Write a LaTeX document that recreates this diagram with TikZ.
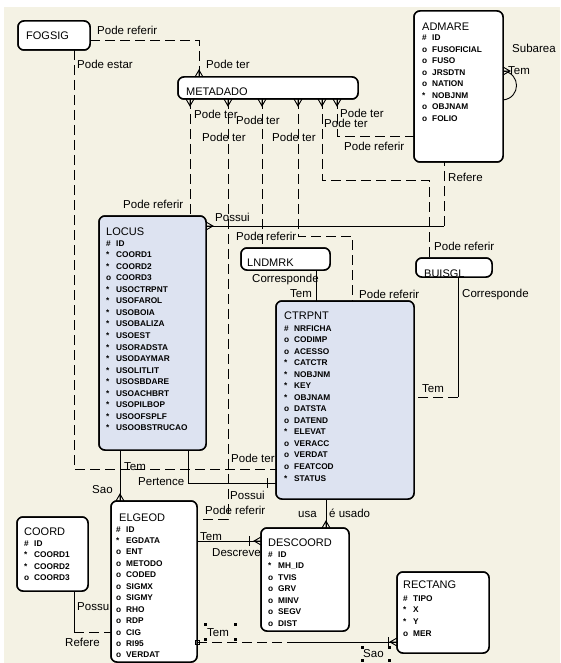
\documentclass[tikz,border=0pt]{standalone}
\usepackage{fontspec}
\setmainfont{Liberation Sans}
\definecolor{bgc}{RGB}{244,242,228}
\definecolor{entblue}{RGB}{221,227,241}
\newcommand\crowU[1]{\draw[cf] ([xshift=-4pt]#1) -- ([yshift=7pt]#1) -- ([xshift=4pt]#1) (#1) -- ([yshift=7pt]#1);}
\newcommand\crowD[1]{\draw[cf] ([xshift=-4pt]#1) -- ([yshift=-7pt]#1) -- ([xshift=4pt]#1) (#1) -- ([yshift=-7pt]#1);}
\newcommand\crowR[1]{\draw[cf] ([yshift=-4pt]#1) -- ([xshift=7pt]#1) -- ([yshift=4pt]#1) (#1) -- ([xshift=7pt]#1);}
\newcommand\crowL[1]{\draw[cf] ([yshift=-4pt]#1) -- ([xshift=-7pt]#1) -- ([yshift=4pt]#1) (#1) -- ([xshift=-7pt]#1);}
\newcommand\attlist[5]{%
  \foreach \mk/\nm [count=\i] in {#5} {
    \node[att] (#1m\i) at ({#2},{#3+#4*(\i-1)}) {\mk};
    \node[att] (#1t\i) at ({#2+10},{#3+#4*(\i-1)}) {\nm};
  }}
\begin{document}
\begin{tikzpicture}[x=1pt,y=-1pt,
  ent/.style={draw=black, line width=1.5pt, rounded corners=6pt, fill=white, inner sep=0pt, outer sep=0pt},
  entb/.style={ent, fill=entblue},
  lbl/.style={inner sep=0pt, anchor=base west, font=\fontsize{11.5}{13}\selectfont},
  ttl/.style={inner sep=0pt, anchor=base west, font=\fontsize{11}{13}\selectfont},
  att/.style={inner sep=0pt, anchor=base west, font=\fontsize{8.3}{10}\selectfont\bfseries},
  sol/.style={line width=0.9pt},
  dsh/.style={line width=0.9pt, dash pattern=on 10pt off 5pt},
  cf/.style={line width=0.9pt},
]
\useasboundingbox (0,0) rectangle (560,663);
\fill[bgc] (4,7) rectangle (560,663);

% entity boxes (named, used as connector ends)
\node[ent, minimum width=72pt, minimum height=29pt] (fogsig) at (54,35.5) {};
\node[ent, minimum width=180pt, minimum height=22pt] (metadado) at (268,88) {};
\node[ent, minimum width=89pt, minimum height=151pt] (admare) at (458.5,86.5) {};
\node[entb, minimum width=107pt, minimum height=234pt] (locus) at (152.5,333) {};
\node[ent, minimum width=89pt, minimum height=22pt] (lndmrk) at (285.5,259) {};
\node[ent, minimum width=76pt, minimum height=19pt] (buisgl) at (454,267.5) {};
\node[entb, minimum width=138pt, minimum height=198pt] (ctrpnt) at (345,400) {};
\node[ent, minimum width=86pt, minimum height=161pt] (elgeod) at (154,581.5) {};
\node[ent, minimum width=71pt, minimum height=74pt] (coord) at (52.5,554) {};
\node[ent, minimum width=88pt, minimum height=103pt] (descoord) at (305,579.5) {};
\node[ent, minimum width=92pt, minimum height=81pt] (rectang) at (443,612.5) {};

% connectors
\draw[dsh] (fogsig.east |- 0,40) -| (199,0 |- metadado.north);
\draw[dsh] (74,0 |- fogsig.south) |- (ctrpnt.west |- 0,469);
\draw[dsh] (190,0 |- metadado.south) -- (190,0 |- locus.north);
\draw[dsh] (228,0 |- metadado.south) |- (elgeod.east |- 0,519);
\draw[dsh] (262,0 |- metadado.south) -- (262,0 |- lndmrk.north);
\draw[dsh] (298,0 |- metadado.south) |- (352,236) -- (352,0 |- ctrpnt.north);
\draw[dsh] (322,0 |- metadado.south) |- (429,180) -- (429,0 |- buisgl.north);
\draw[dsh] (337,0 |- metadado.south) |- (admare.west |- 0,136);
\coordinate (adm-lo) at (444,226);
\draw[sol] (locus.east |- 0,226) -- (adm-lo);
\draw[dsh] (adm-lo) -- (444,0 |- admare.south);
\draw[sol] (316,0 |- lndmrk.south) -- (316,0 |- ctrpnt.north);
\coordinate (bui-ct) at (458,397);
\draw[sol] (458,0 |- buisgl.south) -- (bui-ct);
\draw[dsh] (bui-ct) -- (ctrpnt.east |- 0,397);
\draw[sol] (120,0 |- locus.south) -- (120,0 |- elgeod.north);
\draw[sol] (188,0 |- locus.south) |- (ctrpnt.west |- 0,483);
\draw[sol] (326,0 |- ctrpnt.south) -- (326,0 |- descoord.north);
\draw[sol] (elgeod.east |- 0,541) -- (descoord.west |- 0,541);
\coordinate (el-re) at (297,642);
\draw[dsh] (elgeod.east |- 0,642) -- (el-re);
\draw[sol] (el-re) -- (rectang.west |- 0,642);
\coordinate (co-el) at (74,632);
\draw[sol] (74,0 |- coord.south) -- (co-el);
\draw[dsh] (co-el) -- (elgeod.west |- 0,632);
\draw[cf] (admare.east |- 0,71) .. controls (521,73) and (521,98) .. (admare.east |- 0,100);

% boxes again, over the line ends
\node[ent, minimum width=72pt, minimum height=29pt] (fogsig2) at (54,35.5) {};
\node[ent, minimum width=180pt, minimum height=22pt] (metadado2) at (268,88) {};
\node[ent, minimum width=89pt, minimum height=151pt] (admare2) at (458.5,86.5) {};
\node[entb, minimum width=107pt, minimum height=234pt] (locus2) at (152.5,333) {};
\node[ent, minimum width=89pt, minimum height=22pt] (lndmrk2) at (285.5,259) {};
\node[ent, minimum width=76pt, minimum height=19pt] (buisgl2) at (454,267.5) {};
\node[entb, minimum width=138pt, minimum height=198pt] (ctrpnt2) at (345,400) {};
\node[ent, minimum width=86pt, minimum height=161pt] (elgeod2) at (154,581.5) {};
\node[ent, minimum width=71pt, minimum height=74pt] (coord2) at (52.5,554) {};
\node[ent, minimum width=88pt, minimum height=103pt] (descoord2) at (305,579.5) {};
\node[ent, minimum width=92pt, minimum height=81pt] (rectang2) at (443,612.5) {};

% crow's feet and bars
\coordinate (k1) at (199,0 |- metadado.north);
\crowU{k1}
\foreach \xx [count=\j] in {190,228,262,298,322,337} {
  \coordinate (kb\j) at (\xx,0 |- metadado.south);
  \crowD{kb\j}
}
\coordinate (k2) at (admare.east |- 0,71); \crowR{k2}
\coordinate (k3) at (locus.east |- 0,226); \crowR{k3}
\coordinate (k4) at (120,0 |- elgeod.north); \crowU{k4}
\coordinate (k5) at (326,0 |- descoord.north); \crowU{k5}
\coordinate (k6) at (descoord.west |- 0,541); \crowL{k6}
\coordinate (k7) at (rectang.west |- 0,642); \crowL{k7}
\draw[cf] ([xshift=-12pt,yshift=5pt]k6) -- ([xshift=-12pt,yshift=-5pt]k6);
\draw[cf] ([xshift=-9pt,yshift=5pt]k7) -- ([xshift=-9pt,yshift=-5pt]k7);
\coordinate (k8) at (ctrpnt.west |- 0,483);
\draw[cf] ([xshift=-9pt,yshift=5pt]k8) -- ([xshift=-9pt,yshift=-5pt]k8);

% selection handles
\foreach \hx/\hy in {205/624,205/639,235/624,235/639,362/647,389/647,362/660,389/660} {
  \fill (\hx-1.5,\hy-1.5) rectangle ++(3.2,3.2);
}
\draw[line width=0.8pt] (195.5,640) rectangle ++(4,4);

% titles
\node[ttl] (tfog) at (26,40) {FOGSIG};
\node[ttl] (tmet) at (186,96) {METADADO};
\node[ttl] (tadm) at (422,31) {ADMARE};
\node[ttl] (tloc) at (106,235) {LOCUS};
\node[ttl] (tlnd) at (247,266) {LNDMRK};
\node[ttl] (tbui) at (424,277) {BUISGL};
\node[ttl] (tctr) at (284,319) {CTRPNT};
\node[ttl] (telg) at (119,521) {ELGEOD};
\node[ttl] (tcoo) at (24,535) {COORD};
\node[ttl] (tdes) at (268,546) {DESCOORD};
\node[ttl] (trec) at (403,588) {RECTANG};

% attributes
\attlist{adm}{422}{41}{11.5}{\#/ID, o/FUSOFICIAL, o/FUSO, o/JRSDTN, o/NATION, */NOBJNM, o/OBJNAM, o/FOLIO}
\attlist{loc}{106}{246}{11.56}{\#/ID, */COORD1, */COORD2, o/COORD3, */USOCTRPNT, */USOFAROL, */USOBOIA, */USOBALIZA, */USOEST, */USORADSTA, */USODAYMAR, */USOLITLIT, */USOSBDARE, */USOACHBRT, */USOPILBOP, */USOOFSPLF, */USOOBSTRUCAO}
\attlist{ctr}{284}{331}{11.54}{\#/NRFICHA, o/CODIMP, o/ACESSO, */CATCTR, */NOBJNM, */KEY, */OBJNAM, o/DATSTA, o/DATEND, */ELEVAT, o/VERACC, o/VERDAT, o/FEATCOD, */STATUS}
\attlist{elg}{116}{532}{11.45}{\#/ID, */EGDATA, o/ENT, o/METODO, o/CODED, o/SIGMX, o/SIGMY, o/RHO, o/RDP, o/CIG, o/RI95, o/VERDAT}
\attlist{coo}{24}{546}{11.6}{\#/ID, */COORD1, */COORD2, o/COORD3}
\attlist{des}{268}{557}{11.5}{\#/ID, */MH\_ID, o/TVIS, o/GRV, o/MINV, o/SEGV, o/DIST}
\attlist{rec}{403}{601}{11.67}{\#/TIPO, */X, */Y, o/MER}

% relationship labels
\node[lbl] (l1) at (97,35) {Pode referir};
\node[lbl] (l2) at (206,69) {Pode ter};
\node[lbl] (l3) at (77,69) {Pode estar};
\node[lbl] (l4) at (512,53) {Subarea};
\node[lbl] (l5) at (508,75) {Tem};
\node[lbl] (l6) at (194,119) {Pode ter};
\node[lbl] (l7) at (236,125) {Pode ter};
\node[lbl] (l8) at (202,142) {Pode ter};
\node[lbl] (l9) at (272,142) {Pode ter};
\node[lbl] (l10) at (324,128) {Pode ter};
\node[lbl] (l11) at (340,118) {Pode ter};
\node[lbl] (l12) at (344,151) {Pode referir};
\node[lbl] (l13) at (448,182) {Refere};
\node[lbl] (l14) at (123,208) {Pode referir};
\node[lbl] (l15) at (215,221) {Possui};
\node[lbl] (l16) at (236,240) {Pode referir};
\node[lbl] (l17) at (434,250) {Pode referir};
\node[lbl] (l18) at (252,282) {Corresponde};
\node[lbl] (l19) at (290,297) {Tem};
\node[lbl] (l20) at (359,298) {Pode referir};
\node[lbl] (l21) at (462,297) {Corresponde};
\node[lbl] (l22) at (422,392) {Tem};
\node[lbl] (l23) at (231,462) {Pode ter};
\node[lbl] (l24) at (124,470) {Tem};
\node[lbl] (l25) at (138,485) {Pertence};
\node[lbl] (l26) at (92,493) {Sao};
\node[lbl] (l27) at (230,499) {Possui};
\node[lbl] (l28) at (205,514) {Pode referir};
\node[lbl] (l29) at (298,517) {usa};
\node[lbl] (l30) at (329,517) {é usado};
\node[lbl] (l31) at (200,540) {Tem};
\node[lbl] (l32) at (212,556) {Descreve};
\node[lbl] (l33) at (77,610) {Possu};
\node[lbl] (l34) at (65,646) {Refere};
\node[lbl] (l35) at (207,636) {Tem};
\node[lbl] (l36) at (363,657) {Sao};
\end{tikzpicture}
\end{document}
